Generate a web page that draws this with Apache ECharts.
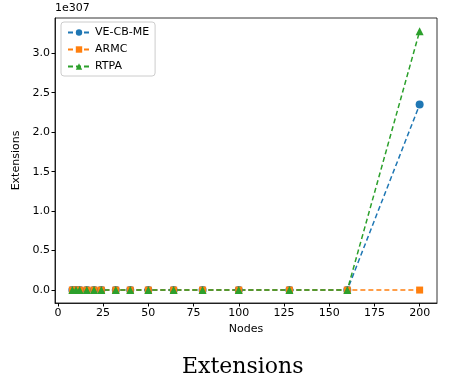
<!DOCTYPE html>
<html>
<head>
<meta charset="utf-8">
<script src="https://cdn.jsdelivr.net/npm/echarts@6/dist/echarts.min.js"></script>
<style>
  html, body { margin: 0; padding: 0; background: #fff; }
  #main { width: 450px; height: 381px; }
</style>
</head>
<body>
<div id="main"></div>
<script>
// nodes on the x axis
var nodes = [8, 10, 12, 16, 20, 24, 32, 40, 50, 64, 80, 100, 128, 160, 200];
// extensions, in units of 1e307
var veCbMe = [0, 0, 0, 0, 0, 0, 0, 0, 0, 0, 0, 0, 0, 0, 2.35];
var armc = [0, 0, 0, 0, 0, 0, 0, 0, 0, 0, 0, 0, 0, 0, 0];
var rtpa = [0, 0, 0, 0, 0, 0, 0, 0, 0, 0, 0, 0, 0, 0, 3.28];
var xTicks = [0, 25, 50, 75, 100, 125, 150, 175, 200];
var yTicks = [0, 0.5, 1.0, 1.5, 2.0, 2.5, 3.0];

function pairs(ys) {
    return nodes.map(function (x, i) { return [x, ys[i]]; });
}

var font = 'DejaVu Sans';
var chart = echarts.init(document.getElementById('main'));

function mkSeries(name, ys, color, symbol, size) {
    return {
        name: name,
        type: 'line',
        data: pairs(ys),
        symbol: symbol,
        symbolSize: size,
        color: color,
        itemStyle: { color: color },
        lineStyle: { color: color, width: 1.5, type: [5, 3] },
        animation: false
    };
}

chart.setOption({
    animation: false,
    title: {
        text: 'Extensions',
        left: 177,
        top: 351,
        textStyle: { fontFamily: 'DejaVu Serif', fontWeight: 'normal', fontSize: 22, color: '#000' }
    },
    grid: {
        left: 55, right: 13, top: 18, bottom: 78,
        show: true, borderColor: '#000', borderWidth: 0.8, backgroundColor: 'transparent'
    },
    legend: {
        orient: 'vertical',
        left: 61, top: 22,
        itemWidth: 22, itemHeight: 8, itemGap: 6,
        padding: [5, 6, 4, 6],
        borderColor: '#ccc', borderWidth: 1, borderRadius: 3,
        textStyle: { fontFamily: font, fontSize: 11, color: '#000' },
        data: ['VE-CB-ME', 'ARMC', 'RTPA']
    },
    xAxis: {
        type: 'value',
        min: -1.6, max: 209.6,
        name: 'Nodes',
        nameLocation: 'middle',
        nameGap: 20,
        nameTextStyle: { fontFamily: font, fontSize: 11, color: '#000' },
        splitLine: { show: false },
        axisLine: { onZero: false, lineStyle: { color: '#000', width: 0.8 } },
        axisTick: { customValues: xTicks, length: 3.5, lineStyle: { color: '#000' } },
        axisLabel: { customValues: xTicks, fontFamily: font, fontSize: 11, color: '#000', margin: 5 }
    },
    yAxis: {
        type: 'value',
        min: -0.164, max: 3.447,
        name: 'Extensions',
        nameLocation: 'middle',
        nameGap: 30,
        nameRotate: 90,
        nameTextStyle: { fontFamily: font, fontSize: 11, color: '#000' },
        splitLine: { show: false },
        axisLine: { onZero: false, lineStyle: { color: '#000', width: 0.8 } },
        axisTick: { customValues: yTicks, length: 3.5, lineStyle: { color: '#000' } },
        axisLabel: {
            customValues: yTicks, fontFamily: font, fontSize: 11, color: '#000', margin: 5,
            formatter: function (v) { return v.toFixed(1); }
        }
    },
    graphic: [{
        type: 'text',
        left: 55, top: 3,
        style: { text: '1e307', font: '11px "DejaVu Sans"', fill: '#000' }
    }],
    series: [
        mkSeries('VE-CB-ME', veCbMe, '#1f77b4', 'circle', 8),
        mkSeries('ARMC', armc, '#ff7f0e', 'rect', 7),
        mkSeries('RTPA', rtpa, '#2ca02c', 'triangle', 8)
    ]
});
</script>
</body>
</html>
